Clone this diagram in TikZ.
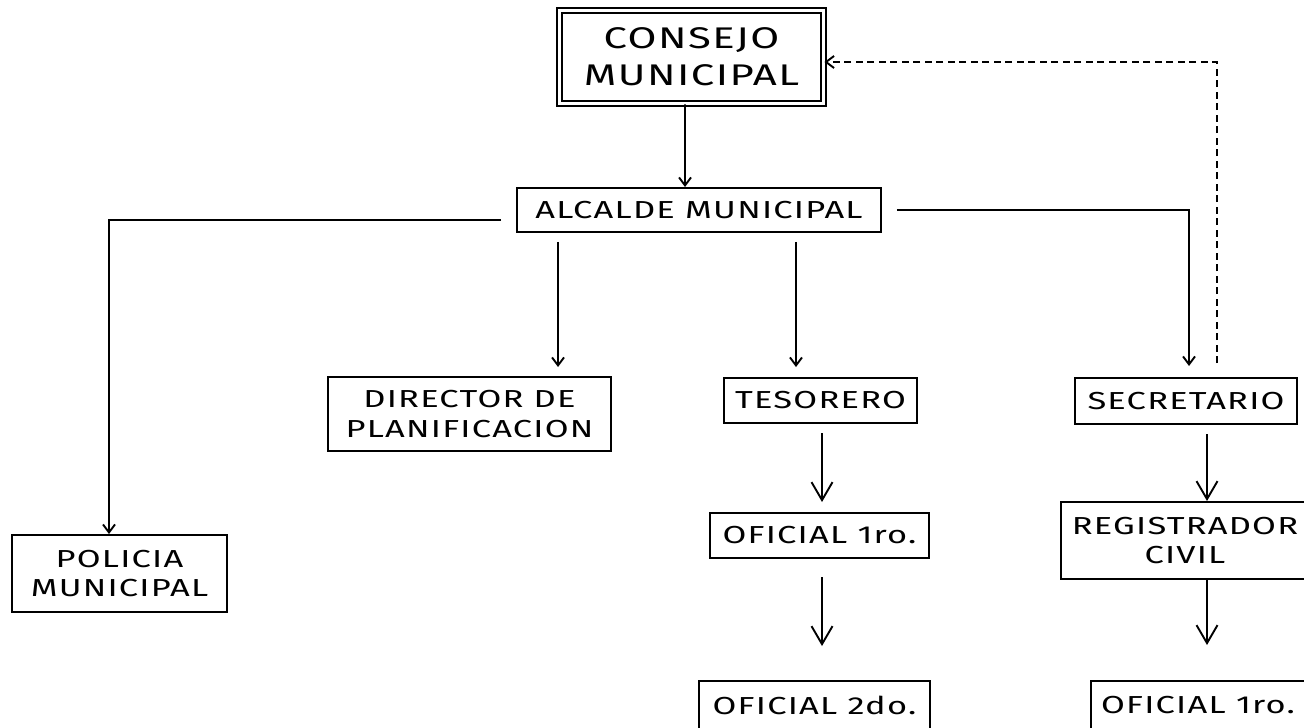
\documentclass[tikz,border=0pt]{standalone}
\usepackage{fontspec}
\setmainfont{Fira Sans}[FakeStretch=1.4, LetterSpace=5]
\usetikzlibrary{arrows.meta}

\begin{document}
\begin{tikzpicture}[x=0.02cm, y=-0.02cm]
  \tikzstyle{office} = [draw, line width=0.04cm, fill=white, rectangle, inner sep=0pt, align=center, font={\fontsize{14}{17}\selectfont}]
  \tikzstyle{council} = [office, double, double distance=0.06cm, font={\fontsize{17}{21}\selectfont}]
  \tikzstyle{officeEdge} = [black, line width=0.038cm, -{Straight Barb[length=0.16cm,width=0.24cm]}];
  \tikzstyle{bigEdge} = [officeEdge, -{Straight Barb[length=0.36cm,width=0.42cm]}];
  \tikzstyle{reportEdge} = [officeEdge, dash pattern=on 0.14cm off 0.09cm];

  \useasboundingbox (0,0) rectangle (1304,727);

	\node[council, minimum width=5.28cm, minimum height=1.86cm](cm) at (691.5,57) {CONSEJO\\MUNICIPAL};
	\node[office, minimum width=7.28cm, minimum height=0.88cm](am) at (699,210) {ALCALDE MUNICIPAL};
	\node[office, minimum width=5.66cm, minimum height=1.48cm](dp) at (469.5,414) {DIRECTOR DE\\PLANIFICACION};
	\node[office, minimum width=3.86cm, minimum height=0.90cm](ts) at (820.5,400.5) {TESORERO};
	\node[office, minimum width=4.44cm, minimum height=0.92cm](sc) at (1186,401) {SECRETARIO};
	\node[office, minimum width=4.30cm, minimum height=1.54cm](pm) at (119.5,573.5) {POLICIA\\MUNICIPAL};
	\node[office, minimum width=4.38cm, minimum height=0.90cm](o1) at (819.5,535.5) {OFICIAL 1ro.};
	\node[office, minimum width=4.62cm, minimum height=0.96cm](o2) at (814.5,705) {OFICIAL 2do.};
	\node[office, minimum width=4.96cm, minimum height=1.54cm](rc) at (1185,540.5) {REGISTRADOR\\CIVIL};
	\node[office, minimum width=4.28cm, minimum height=0.96cm](ob) at (1198,705) {OFICIAL 1ro.};

	\draw[officeEdge] ([xshift=-0.13cm]cm.south) -- ([xshift=-0.28cm]am.north);
	\draw[officeEdge] ([xshift=-0.3cm,yshift=-0.2cm]am.west) -| ([xshift=-0.21cm]pm.north);
	\draw[officeEdge, shorten <=0.18cm, shorten >=0.18cm] ([xshift=-2.82cm]am.south) -- ([xshift=-2.82cm]am.south |- dp.north);
	\draw[officeEdge, shorten <=0.18cm, shorten >=0.2cm] ([xshift=1.94cm]am.south) -- ([xshift=1.94cm]am.south |- ts.north);
	\draw[officeEdge, shorten >=0.22cm] ([xshift=0.3cm]am.east) -| ([xshift=0.06cm]sc.north);
	\draw[reportEdge, shorten <=0.28cm] ([xshift=0.62cm]sc.north) |- ([yshift=-0.1cm]cm.east);

	\draw[bigEdge, shorten <=0.18cm, shorten >=0.2cm] ([xshift=0.03cm]ts.south) -- ([xshift=0.03cm]ts.south |- o1.north);
	\draw[bigEdge, shorten <=0.36cm, shorten >=0.68cm] ([xshift=0.05cm]o1.south) -- ([xshift=0.05cm]o1.south |- o2.north);
	\draw[bigEdge, shorten <=0.18cm] ([xshift=0.42cm]sc.south) -- ([xshift=0.42cm]sc.south |- rc.north);
	\draw[bigEdge, shorten >=0.7cm] ([xshift=0.44cm]rc.south) -- ([xshift=0.44cm]rc.south |- ob.north);
\end{tikzpicture}
\end{document}
